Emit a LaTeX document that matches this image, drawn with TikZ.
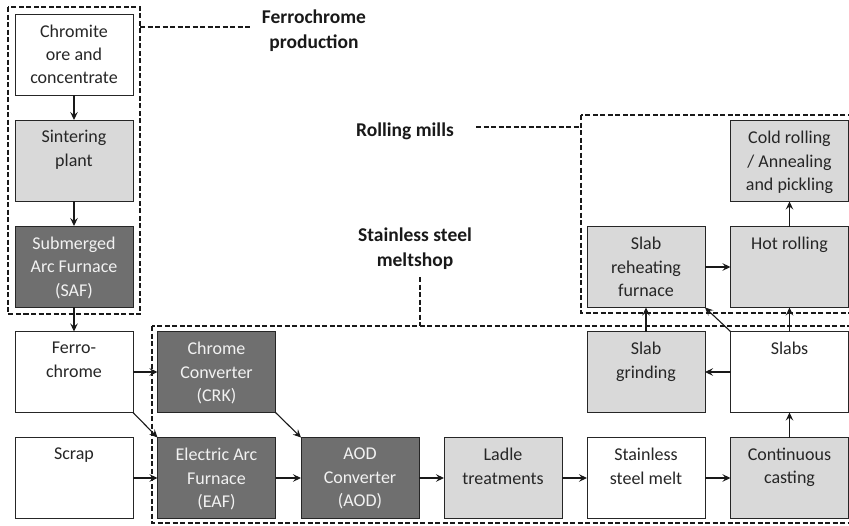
\documentclass[tikz,border=0pt]{standalone}
\usepackage{fontspec}
\setmainfont{Carlito}
\usetikzlibrary{arrows.meta}
\definecolor{lightbox}{HTML}{D9D9D9}
\definecolor{darkbox}{HTML}{6F6F6F}
\definecolor{darktext}{HTML}{F2F2F2}
\newcommand\boxtxt[1]{\parbox[c][81pt][t]{118pt}{\centering\fontsize{18}{23.5}\selectfont\vspace*{10.5pt}#1\par}}
\tikzset{
  procbox/.style={draw=black!85, line width=1pt, inner sep=0pt, outer sep=0pt},
  whitebox/.style={procbox, fill=white, text=black!85},
  lightgraybox/.style={procbox, fill=lightbox, text=black!85},
  darkgraybox/.style={procbox, fill=darkbox, text=darktext},
  flow/.style={line width=1.1pt, draw=black!90, -{Stealth[length=8pt,width=7.5pt,inset=3pt]}},
  groupline/.style={line width=1.4pt, dash pattern=on 5pt off 2.5pt, draw=black!90},
  grouplabel/.style={font=\bfseries\fontsize{19.5}{25}\selectfont, align=center, text=black!90, inner sep=0pt}
}
\begin{document}
\begin{tikzpicture}[x=1pt,y=-1pt]
\useasboundingbox (0,0) rectangle (849,525);
\clip (0,0) rectangle (849,525);
% group boxes
\draw[groupline] (8,7) rectangle (140,314);
\draw[groupline] (581,115) rectangle (860,313);
\draw[groupline] (152,326) rectangle (860,523);
% group labels
\node[grouplabel] (lfc) at (314,31) {Ferrochrome\\production};
\node[grouplabel] (lrm) at (405,131) {Rolling mills};
\node[grouplabel] (lss) at (415,249) {Stainless steel\\meltshop};
\coordinate (cfc1) at (140,27);
\coordinate (cfc2) at (251,27);
\coordinate (crm1) at (476,127);
\coordinate (crm2) at (581,127);
\coordinate (css1) at (420,277);
\coordinate (css2) at (420,326);
\draw[groupline] (cfc1) -- (cfc2);
\draw[groupline] (crm1) -- (crm2);
\draw[groupline] (css1) -- (css2);
% process boxes
\node[whitebox] (chromite) at (74,54.5) {\boxtxt{Chromite\\ore and\\concentrate}};
\node[lightgraybox] (sinter) at (74,160.5) {\boxtxt{Sintering\\plant}};
\node[darkgraybox] (saf) at (74,266.5) {\boxtxt{Submerged\\Arc Furnace\\(SAF)}};
\node[whitebox] (ferro) at (74,372) {\boxtxt{Ferro-\\chrome}};
\node[whitebox] (scrap) at (74,478) {\boxtxt{Scrap}};
\node[darkgraybox] (crk) at (216.5,372) {\boxtxt{Chrome\\Converter\\(CRK)}};
\node[darkgraybox] (eaf) at (216.5,478) {\boxtxt{Electric Arc\\Furnace\\(EAF)}};
\node[darkgraybox] (aod) at (360,478) {\boxtxt{AOD\\Converter\\(AOD)}};
\node[lightgraybox] (ladle) at (503,478) {\boxtxt{Ladle\\treatments}};
\node[whitebox] (melt) at (646,478) {\boxtxt{Stainless\\steel melt}};
\node[lightgraybox] (cast) at (789.5,478) {\boxtxt{Continuous\\casting}};
\node[lightgraybox] (grind) at (646,372) {\boxtxt{Slab\\grinding}};
\node[whitebox] (slabs) at (789.5,372) {\boxtxt{Slabs}};
\node[lightgraybox] (reheat) at (646,267) {\boxtxt{Slab\\reheating\\furnace}};
\node[lightgraybox] (hot) at (789.5,267) {\boxtxt{Hot rolling}};
\node[lightgraybox] (cold) at (789.5,161) {\boxtxt{Cold rolling\\/ Annealing\\and pickling}};
% flows
\draw[flow] (chromite) -- (sinter);
\draw[flow] (sinter) -- (saf);
\draw[flow] (saf) -- (ferro);
\draw[flow] (ferro) -- (crk);
\draw[flow] (ferro.south east) -- (eaf.north west);
\draw[flow] (scrap) -- (eaf);
\draw[flow] (crk.south east) -- (aod.north west);
\draw[flow] (eaf) -- (aod);
\draw[flow] (aod) -- (ladle);
\draw[flow] (ladle) -- (melt);
\draw[flow] (melt) -- (cast);
\draw[flow] (cast) -- (slabs);
\draw[flow] (slabs) -- (grind);
\draw[flow] (grind) -- (reheat);
\draw[flow] (slabs.north west) -- (reheat.south east);
\draw[flow] (slabs) -- (hot);
\draw[flow] (reheat) -- (hot);
\draw[flow] (hot) -- (cold);
\end{tikzpicture}
\end{document}
